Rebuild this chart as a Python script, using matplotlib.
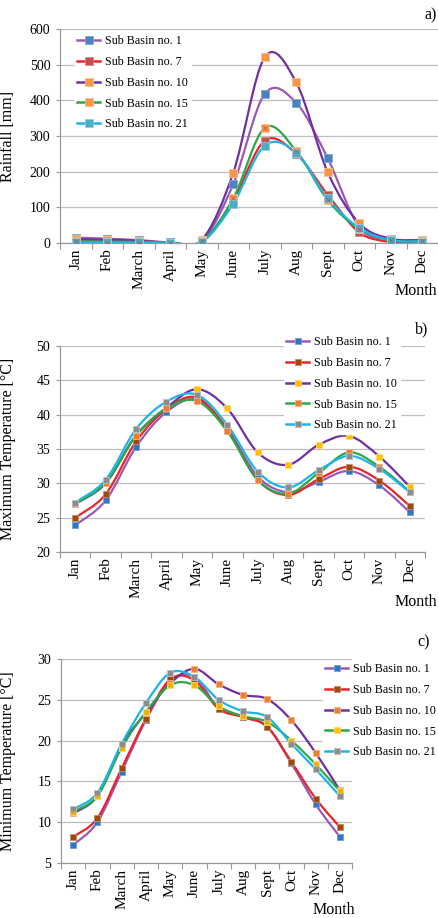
import numpy as np
import matplotlib
matplotlib.use("Agg")
import matplotlib.pyplot as plt
from matplotlib.path import Path
from matplotlib.patches import PathPatch
from matplotlib.lines import Line2D

plt.rcParams['font.family'] = ['Liberation Serif', 'DejaVu Serif']

months = ["Jan", "Feb", "March", "April", "May", "June", "July", "Aug", "Sept", "Oct", "Nov", "Dec"]
basins = ["Sub Basin no. 1", "Sub Basin no. 7", "Sub Basin no. 10", "Sub Basin no. 15", "Sub Basin no. 21"]

# a) rainfall [mm]
rain_sb1 = [15, 12, 8, 2, 5, 165, 418, 393, 237, 45, 10, 8]
rain_sb7 = [8, 7, 5, 1, 2, 120, 287, 250, 135, 30, 3, 5]
rain_sb10 = [10, 9, 6, 1, 8, 197, 521, 450, 198, 55, 12, 8]
rain_sb15 = [5, 4, 3, 1, 5, 125, 323, 258, 120, 40, 8, 5]
rain_sb21 = [3, 2, 2, 1, 3, 110, 273, 253, 125, 42, 8, 4]

# b) maximum temperature [°C]
tmax_sb1 = [23.9, 27.5, 35.3, 40.4, 42.2, 38.0, 31.0, 28.7, 30.2, 31.8, 29.7, 25.8]
tmax_sb7 = [25.0, 28.4, 36.1, 40.8, 42.5, 37.8, 30.5, 28.3, 30.6, 32.4, 30.4, 26.7]
tmax_sb10 = [27.0, 30.0, 37.0, 41.0, 43.7, 40.9, 34.5, 32.7, 35.6, 36.9, 33.9, 29.5]
tmax_sb15 = [27.0, 30.1, 36.9, 40.9, 42.0, 37.6, 30.5, 28.5, 31.5, 34.5, 32.4, 28.8]
tmax_sb21 = [27.2, 30.5, 37.9, 41.9, 42.9, 38.5, 31.7, 29.4, 31.9, 34.0, 32.1, 28.7]

# c) minimum temperature [°C]
tmin_sb1 = [7.2, 10.0, 16.2, 22.5, 27.3, 27.8, 24.0, 22.9, 21.7, 17.2, 12.2, 8.2]
tmin_sb7 = [8.2, 10.5, 16.6, 22.7, 27.5, 27.4, 23.9, 22.9, 21.7, 17.4, 12.9, 9.4]
tmin_sb10 = [11.1, 13.2, 19.5, 23.4, 27.0, 28.8, 26.9, 25.6, 25.1, 22.5, 18.5, 13.9]
tmin_sb15 = [11.3, 13.2, 19.1, 23.5, 26.8, 26.8, 24.2, 23.0, 22.3, 20.0, 17.1, 13.8]
tmin_sb21 = [11.6, 13.6, 19.6, 24.6, 28.3, 27.8, 25.0, 23.6, 22.9, 19.6, 16.5, 13.2]


def smooth_path(x, y):
    # Excel-like smoothed line as cubic bezier segments
    p = np.column_stack([x, y]).astype(float)
    n = len(p)
    verts = [p[0]]
    codes = [Path.MOVETO]
    for i in range(n - 1):
        p0 = p[i - 1] if i > 0 else p[i]
        p3 = p[i + 2] if i + 2 < n else p[i + 1]
        c1 = p[i] + (p[i + 1] - p0) / 6.0
        c2 = p[i + 1] - (p3 - p[i]) / 6.0
        verts += [c1, c2, p[i + 1]]
        codes += [Path.CURVE4] * 3
    return Path(verts, codes)


def draw_panel(ax, series, styles, ylim, yticks, ylabel, ms):
    x = np.arange(len(months))
    handles = []
    for vals, (lc, mc, ec, cross) in zip(series, styles):
        ax.add_patch(PathPatch(smooth_path(x, vals), fill=False, edgecolor=lc, lw=1.6, zorder=3,
                               capstyle='round', joinstyle='round'))
        ax.plot(x, vals, ls='none', marker='s', ms=ms, mfc=mc, mec=ec, mew=0.6, zorder=4)
        if cross:
            ax.plot(x, vals, ls='none', marker='x', ms=ms * 0.6, mec=cross, mew=0.6, zorder=5)
        handles.append(Line2D([], [], color=lc, lw=1.8, marker='s', ms=ms, mfc=mc, mec=ec, mew=0.6))
    ax.set_xlim(-0.5, len(months) - 0.5)
    ax.set_ylim(*ylim)
    ax.set_yticks(yticks)
    ax.set_xticks(x)
    ax.set_xticklabels(months, rotation=90, fontsize=11)
    ax.set_xticks(np.arange(-0.5, len(months)), minor=True)
    ax.tick_params(axis='x', which='major', length=0, pad=4)
    ax.tick_params(axis='x', which='minor', length=4, color='#999999', width=0.8)
    ax.tick_params(axis='y', length=3, color='#999999', width=0.8, labelsize=10, pad=4)
    ax.yaxis.grid(True, color='#BEBEBE', lw=0.9)
    ax.set_axisbelow(True)
    for s in ['top', 'right']:
        ax.spines[s].set_visible(False)
    for s in ['left', 'bottom']:
        ax.spines[s].set_color('#999999')
        ax.spines[s].set_linewidth(0.9)
    ax.set_ylabel(ylabel, fontsize=11.5)
    return handles


W, H = 438, 918
fig = plt.figure(figsize=(W / 100, H / 100), dpi=100)


def box(l, r, top, bot):
    return [l / W, (H - bot) / H, (r - l) / W, (bot - top) / H]


legend_kw = dict(frameon=True, framealpha=1, edgecolor='white', fontsize=8.7,
                 handlelength=1.9, handletextpad=0.4, labelspacing=0.72, borderpad=0.2,
                 borderaxespad=0)

# panel a
ax1 = fig.add_axes(box(60, 438, 29, 243))
st1 = [('#9B59B6', '#4F81BD', '#7DA7D9', None),
       ('#E8262A', '#C0504D', '#D98B88', None),
       ('#7030A0', '#F79646', '#FAC090', None),
       ('#2CA848', '#F79646', '#FAC090', '#C0504D'),
       ('#1FB4E8', '#4BACC6', '#93CDDD', None)]
h1 = draw_panel(ax1, [rain_sb1, rain_sb7, rain_sb10, rain_sb15, rain_sb21], st1,
                (0, 600), np.arange(0, 601, 100), "Rainfall [mm]", 5.4)
ax1.yaxis.set_label_coords(-44 / 378, 0.5)
ax1.legend(h1, basins, loc='upper left', bbox_to_anchor=(75 / W, (H - 33) / H),
           bbox_transform=fig.transFigure, **legend_kw)
fig.text(437 / W, (H - 15) / H, "a)", ha='right', va='center', fontsize=11.5)
fig.text(437 / W, (H - 291) / H, "Month", ha='right', va='center', fontsize=11.5)

# panel b
ax2 = fig.add_axes(box(60, 425, 346, 552))
st2 = [('#9B59B6', '#2F75C8', '#6FA0DA', None),
       ('#E8262A', '#9E480E', '#C98A62', None),
       ('#7030A0', '#FFC000', '#FFD966', None),
       ('#2CA848', '#ED7D31', '#F4B183', None),
       ('#1FB4E8', '#8C8C8C', '#BFBFBF', None)]
h2 = draw_panel(ax2, [tmax_sb1, tmax_sb7, tmax_sb10, tmax_sb15, tmax_sb21], st2,
                (20, 50), np.arange(20, 51, 5), "Maximum Temperature [°C]", 4.5)
ax2.yaxis.set_label_coords(-44 / 365, 0.5)
ax2.legend(h2, basins, loc='upper left', bbox_to_anchor=(284 / W, (H - 334) / H),
           bbox_transform=fig.transFigure, **legend_kw)
fig.text(428 / W, (H - 329) / H, "b)", ha='right', va='center', fontsize=11.5)
fig.text(437 / W, (H - 602) / H, "Month", ha='right', va='center', fontsize=11.5)

# panel c
ax3 = fig.add_axes(box(61, 352, 659, 863))
st3 = [('#9B59B6', '#2F75C8', '#6FA0DA', None),
       ('#E8262A', '#9E480E', '#C98A62', None),
       ('#7030A0', '#ED7D31', '#F4B183', None),
       ('#2CA848', '#FFC000', '#FFD966', '#C9A227'),
       ('#1FB4E8', '#8C8C8C', '#BFBFBF', None)]
h3 = draw_panel(ax3, [tmin_sb1, tmin_sb7, tmin_sb10, tmin_sb15, tmin_sb21], st3,
                (5, 30), np.arange(5, 31, 5), "Minimum Temperature [°C]", 4.5)
ax3.yaxis.set_label_coords(-45 / 291, 0.5)
ax3.legend(h3, basins, loc='upper left', bbox_to_anchor=(323 / W, (H - 661) / H),
           bbox_transform=fig.transFigure, **legend_kw)
fig.text(430 / W, (H - 642) / H, "c)", ha='right', va='center', fontsize=11.5)
fig.text(355 / W, (H - 910) / H, "Month", ha='right', va='center', fontsize=11.5)

fig.savefig("out.png", dpi=100)
